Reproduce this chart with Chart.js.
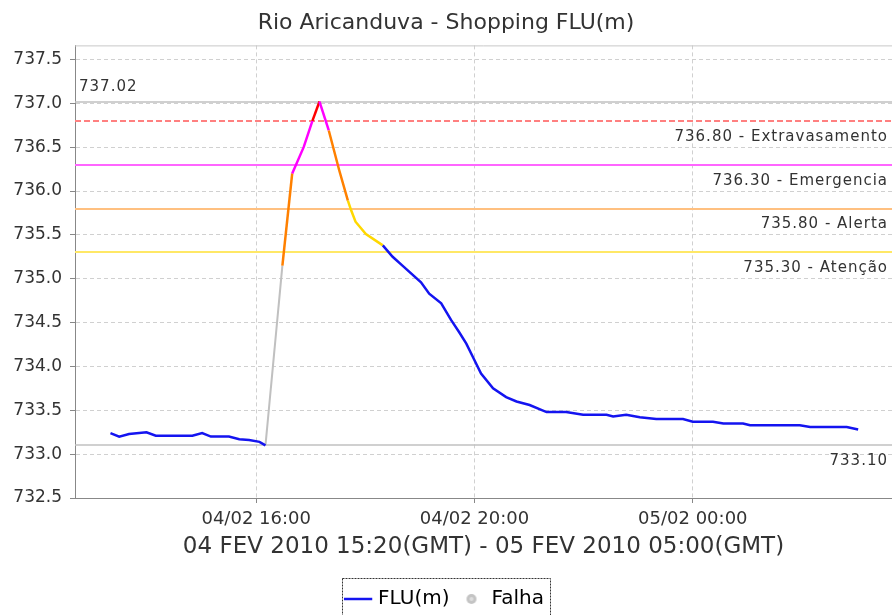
<!DOCTYPE html>
<html>
<head>
<meta charset="utf-8">
<script src="https://cdn.jsdelivr.net/npm/chart.js@4.4.1/dist/chart.umd.min.js"></script>
<style>
html, body { margin: 0; padding: 0; background: #fff; }
#wrap { width: 892px; height: 615px; }
</style>
</head>
<body>
<div id="wrap"><canvas id="chart"></canvas></div>
<script>
'use strict';
// hours counted from 04/02 00:00, level in metres
const hours = [13.33, 13.49, 13.67, 13.99, 14.16, 14.83, 15.01, 15.17, 15.50, 15.69,
	15.87, 16.06, 16.17, 16.30, 16.48, 16.66, 16.87, 17.03, 17.16, 17.33,
	17.52, 17.68, 17.74, 17.82, 18.01, 18.32, 18.50, 18.68, 19.02, 19.17,
	19.39, 19.57, 19.72, 19.85, 20.00, 20.12, 20.34, 20.58, 20.77, 21.01,
	21.32, 21.68, 21.99, 22.42, 22.54, 22.78, 23.03, 23.33, 23.82, 24.00,
	24.37, 24.56, 24.92, 25.05, 25.96, 26.15, 26.82, 27.03];
const levels = [733.24, 733.20, 733.23, 733.25, 733.21, 733.21, 733.24, 733.20, 733.20, 733.17,
	733.16, 733.14, 733.10, null, 735.15, 736.20, 736.50, 736.80, 737.02, 736.69,
	736.24, 735.89, 735.78, 735.65, 735.51, 735.38, 735.25, 735.15, 734.96, 734.83,
	734.72, 734.53, 734.39, 734.26, 734.07, 733.92, 733.75, 733.65, 733.60, 733.56,
	733.48, 733.48, 733.45, 733.45, 733.43, 733.45, 733.42, 733.40, 733.40, 733.37,
	733.37, 733.35, 733.35, 733.33, 733.33, 733.31, 733.31, 733.28];
// gap without data (Falha)
const falhaHours = [16.17, 16.48];
const falhaLevels = [733.10, 735.15];

const limitValues = [736.80, 736.30, 735.80, 735.30];
const limitNames = ['Extravasamento', 'Emergencia', 'Alerta', 'Atenção'];

const yTicks = [732.5, 733.0, 733.5, 734.0, 734.5, 735.0, 735.5, 736.0, 736.5, 737.0, 737.5];
const xTickHours = [16, 20, 24];
const xTickLabels = ['04/02 16:00', '04/02 20:00', '05/02 00:00'];

// styles
const limitLineColors = ['#ff8080', '#ff66ff', '#ffc080', '#ffe866'];
const segColors = ['#ff0000', '#ff00ff', '#ff8000', '#ffd800'];
const normalColor = '#1414f0';
const FONT = 'DejaVu Sans';

const levelColor = (v) => {
	for (let i = 0; i < limitValues.length; i++) {
		if (v > limitValues[i]) return segColors[i];
	}
	return normalColor;
};

const known = levels.filter(v => v !== null);
const maxLevel = Math.max(...known),
	minLevel = Math.min(...known);

// small grey dot for the legend
const dot = document.createElement('canvas');
dot.width = 12; dot.height = 12;
(() => {
	let c = dot.getContext('2d');
	c.fillStyle = '#c4c4c4';
	c.beginPath(); c.arc(6, 6, 5, 0, Math.PI * 2); c.fill();
	c.fillStyle = '#dedede';
	c.beginPath(); c.arc(6, 6, 2, 0, Math.PI * 2); c.fill();
})();

const limitsPlugin = {
	id: 'limits',
	beforeDatasetsDraw(chart) {
		const {ctx, chartArea: a, scales: {y}} = chart;
		ctx.save();
		ctx.lineWidth = 1;
		// top frame
		ctx.strokeStyle = '#c8c8c8';
		ctx.beginPath(); ctx.moveTo(a.left, a.top + 0.5); ctx.lineTo(a.right, a.top + 0.5); ctx.stroke();
		// max / min lines
		ctx.lineWidth = 1.5;
		[maxLevel, minLevel].forEach(v => {
			let py = Math.round(y.getPixelForValue(v));
			ctx.strokeStyle = '#c0c0c0';
			ctx.beginPath(); ctx.moveTo(a.left, py); ctx.lineTo(a.right, py); ctx.stroke();
		});
		ctx.lineWidth = 2;
		limitValues.forEach((v, i) => {
			let py = Math.round(y.getPixelForValue(v));
			ctx.strokeStyle = limitLineColors[i];
			ctx.setLineDash(i === 0 ? [6, 3] : []);
			ctx.beginPath(); ctx.moveTo(a.left, py); ctx.lineTo(a.right, py); ctx.stroke();
		});
		ctx.setLineDash([]);
		// labels
		ctx.fillStyle = '#333';
		ctx.font = '15px "' + FONT + '"';
		ctx.letterSpacing = '1px';
		ctx.textBaseline = 'middle';
		ctx.textAlign = 'right';
		limitValues.forEach((v, i) => {
			ctx.fillText(v.toFixed(2) + ' - ' + limitNames[i], a.right - 4, y.getPixelForValue(v) + 16);
		});
		ctx.fillText(minLevel.toFixed(2), a.right - 4, y.getPixelForValue(minLevel) + 16);
		ctx.textAlign = 'left';
		ctx.fillText(maxLevel.toFixed(2), a.left + 4, y.getPixelForValue(maxLevel) - 14);
		ctx.restore();
	},
	afterDraw(chart) {
		const {ctx, legend} = chart;
		let boxes = legend.legendHitBoxes;
		if (!boxes || !boxes.length) return;
		let l = Math.min(...boxes.map(b => b.left)) - 6,
			r = Math.max(...boxes.map(b => b.left + b.width)) + 6,
			t = Math.min(...boxes.map(b => b.top)) - 11;
		ctx.save();
		ctx.strokeStyle = '#333';
		ctx.lineWidth = 1;
		ctx.setLineDash([2, 1]);
		ctx.strokeRect(Math.round(l) + 0.5, Math.round(t) + 0.5, Math.round(r - l), chart.height);
		ctx.restore();
	}
};

const createChart = () => {
	let cv = document.getElementById('chart').getContext('2d');
	new Chart(cv, {
		type: 'line',
		data: {
			datasets: [{
				label: 'FLU(m)',
				data: hours.map((h, i) => ({x: h, y: levels[i]})),
				borderColor: normalColor,
				borderWidth: 2.5,
				pointRadius: 0,
				spanGaps: false,
				segment: {
					borderColor: c => levelColor(c.p1.parsed.y)
				}
			}, {
				label: 'Falha',
				data: falhaHours.map((h, i) => ({x: h, y: falhaLevels[i]})),
				borderColor: '#c0c0c0',
				borderWidth: 2,
				pointRadius: 0
			}]
		},
		options: {
			responsive: true,
			maintainAspectRatio: false,
			animation: false,
			layout: {padding: {left: 0, right: 0, top: 0, bottom: -4}},
			plugins: {
				title: {
					display: true,
					text: 'Rio Aricanduva - Shopping FLU(m)',
					color: '#333',
					font: {family: FONT, size: 22, weight: 'normal'},
					padding: {top: 10, bottom: 9}
				},
				legend: {
					position: 'bottom',
					labels: {
						usePointStyle: true,
						color: '#222',
						font: {family: FONT, size: 20},
						padding: 12,
						generateLabels: () => [
							{text: 'FLU(m)', pointStyle: 'line', strokeStyle: normalColor, fillStyle: normalColor, lineWidth: 2.5, datasetIndex: 0},
							{text: 'Falha', pointStyle: dot, strokeStyle: '#c4c4c4', fillStyle: '#c4c4c4', lineWidth: 0, datasetIndex: 1}
						]
					}
				},
				tooltip: {enabled: false}
			},
			scales: {
				x: {
					type: 'linear',
					min: 12.68,
					max: 27.65,
					afterBuildTicks: s => { s.ticks = xTickHours.map(v => ({value: v})); },
					afterFit: s => { s.height = 79; },
					ticks: {
						autoSkip: false,
						maxRotation: 0,
						padding: 6,
						color: '#333',
						font: {family: FONT, size: 18},
						callback: v => xTickLabels[xTickHours.indexOf(v)]
					},
					grid: {color: '#d0d0d0', tickLength: 5, tickColor: '#888'},
					border: {color: '#888', dash: [4, 3]},
					title: {
						display: true,
						text: '04 FEV 2010 15:20(GMT) - 05 FEV 2010 05:00(GMT)',
						color: '#333',
						font: {family: FONT, size: 23},
						padding: {top: 0, bottom: 16}
					}
				},
				y: {
					min: 732.5,
					max: 737.66,
					afterBuildTicks: s => { s.ticks = yTicks.map(v => ({value: v})); },
					afterFit: s => { s.width = 75; },
					ticks: {
						padding: 8,
						color: '#333',
						font: {family: FONT, size: 17},
						callback: v => v.toFixed(1)
					},
					grid: {color: '#d0d0d0', tickLength: 5, tickColor: '#888'},
					border: {color: '#888', dash: [4, 3]}
				}
			}
		},
		plugins: [limitsPlugin]
	});
};

window.addEventListener('load', () => createChart());
</script>
</body>
</html>
